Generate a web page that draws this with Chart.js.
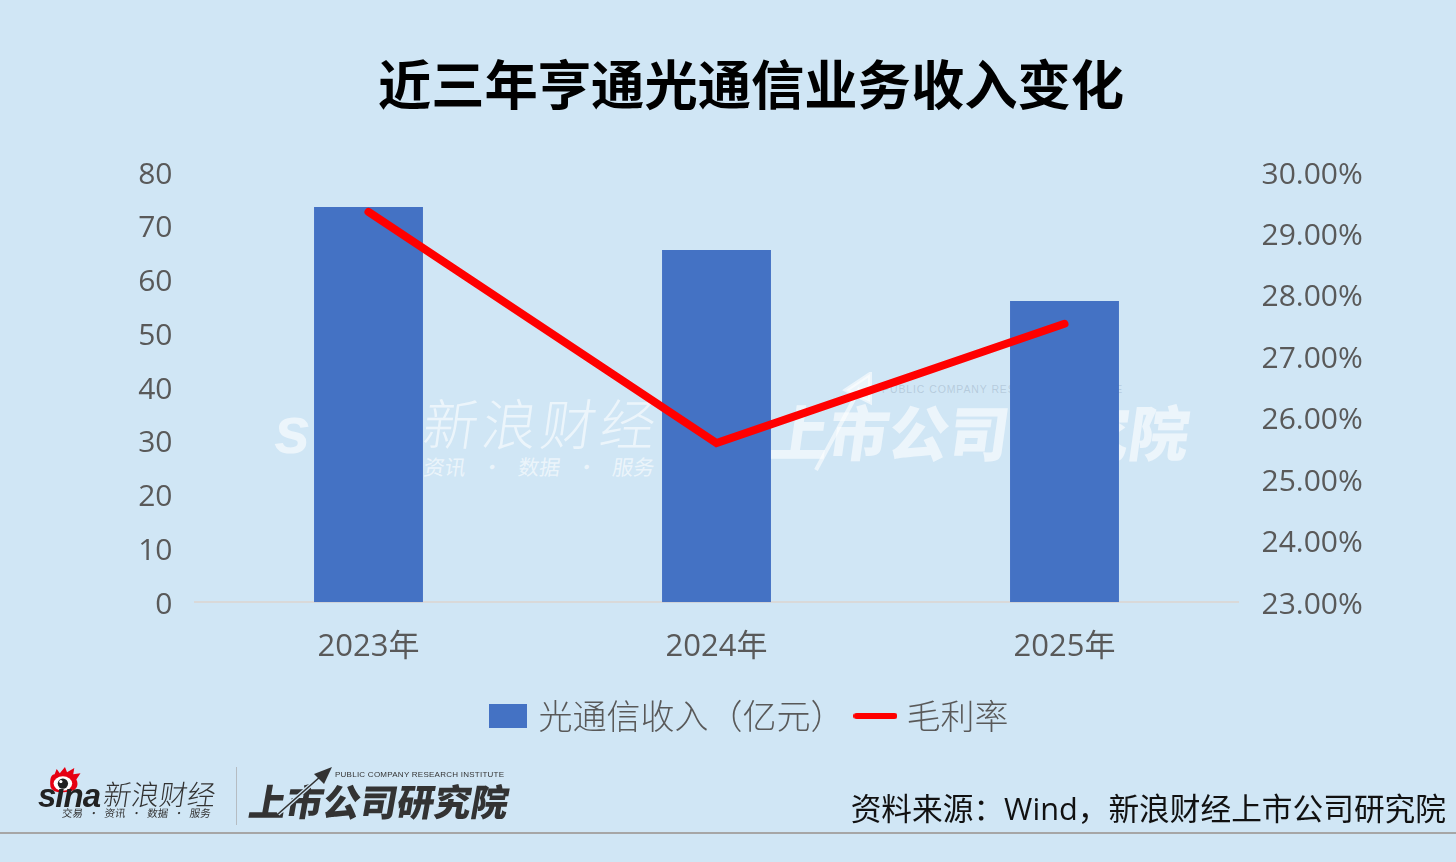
<!DOCTYPE html>
<html lang="zh">
<head>
<meta charset="utf-8">
<title>近三年亨通光通信业务收入变化</title>
<script src="https://cdn.jsdelivr.net/npm/chart.js@4"></script>
<style>
html,body{margin:0;padding:0;background:#d0e6f5;overflow:hidden}
#page{position:relative;width:1456px;height:862px;font-family:"Noto Sans CJK SC",sans-serif}
#page canvas{position:absolute;left:0;top:0}
.t{position:absolute;white-space:nowrap;line-height:1}
.wm{color:rgba(255,255,255,.6)}
.logo{color:#333}
#rule{position:absolute;left:0;top:832px;width:1456px;height:2px;background:#a6a6a6}
#divider{position:absolute;left:236px;top:767px;width:1px;height:58px;background:#b5bcc2}
#source{right:10px;top:793px;font-size:30.7px;color:#111;font-family:"Open Sans","Noto Sans CJK SC",sans-serif}
</style>
</head>
<body>
<div id="page">
  <!-- watermark sits behind the chart -->
  <div class="t wm" style="left:274px;top:392px;font:italic 900 66px 'Liberation Sans',sans-serif">s</div>
  <div class="t wm" style="left:424px;top:394px;font-size:55px;font-weight:300;transform:skewX(-8deg);letter-spacing:4px">新浪财经</div>
  <div class="t wm" style="left:424px;top:456px;font-size:21px;transform:skewX(-8deg);word-spacing:11px">资讯 · 数据 · 服务</div>
  <div class="t wm" style="left:770px;top:400px;font-size:60px;font-weight:900;transform:skewX(-8deg)">上市公司研究院</div>
  <div class="t" style="left:882px;top:383px;font:10.5px 'Liberation Sans',sans-serif;letter-spacing:.9px;color:rgba(150,170,190,.45)">PUBLIC COMPANY RESEARCH INSTITUTE</div>
  <svg style="position:absolute;left:810px;top:372px" width="70" height="100" viewBox="0 0 70 100">
    <path d="M6 98 L50 16 M36 18 L60 2 L60 30Z" stroke="rgba(255,255,255,.6)" stroke-width="4" fill="rgba(255,255,255,.6)"/>
  </svg>
  <canvas id="chart" width="1456" height="862"></canvas>

  <svg style="position:absolute;left:47px;top:766px" width="38" height="29" viewBox="0 0 36 28">
    <path d="M3 20 C2 12 4 8 7 8 L9 3 L12 7 L17 1 L19 6 L26 2 L25 8 L32 7 L28 13 C31 19 28 25 18 25 C10 26 5 25 3 20Z" fill="#e60012"/>
    <ellipse cx="15" cy="17" rx="9" ry="7" fill="#fff"/>
    <circle cx="15" cy="17" r="5" fill="#222"/>
    <circle cx="13" cy="15" r="1.6" fill="#fff"/>
  </svg>
  <div class="t" style="left:38px;top:777px;font:italic 900 33px 'Liberation Sans',sans-serif;color:#222;letter-spacing:-1px">sina</div>
  <div class="t logo" style="left:104px;top:779px;font-size:28px;font-weight:300;transform:skewX(-8deg)">新浪财经</div>
  <div class="t logo" style="left:62px;top:808px;font-size:10.5px;word-spacing:3.2px;transform:skewX(-8deg)">交易 · 资讯 · 数据 · 服务</div>
  <div id="divider"></div>
  <div class="t logo" style="left:250px;top:782px;font-size:37px;font-weight:900;transform:skewX(-10deg)">上市公司研究院</div>
  <svg style="position:absolute;left:275px;top:764px" width="60" height="52" viewBox="0 0 60 52">
    <path d="M3 50 L46 12" stroke="#d0e6f5" stroke-width="4"/>
    <path d="M3 50 L46 12" stroke="#333" stroke-width="1.6"/>
    <path d="M39 10 L57 3 L49 20Z" fill="#333"/>
  </svg>
  <div class="t logo" style="left:335px;top:770px;font:8px 'Liberation Sans',sans-serif;letter-spacing:.25px">PUBLIC COMPANY RESEARCH INSTITUTE</div>
  <div class="t" id="source">资料来源：Wind，新浪财经上市公司研究院</div>
  <div id="rule"></div>
</div>
<script>
const categories = ['2023年', '2024年', '2025年'];
const revenue = [73.5, 65.5, 56.0];
const margin = [29.35, 25.59, 27.53];
const seriesNames = ['光通信收入（亿元）', '毛利率'];
const chartTitle = '近三年亨通光通信业务收入变化';

const BLUE = '#4472c4';
const RED = '#ff0000';
const GREY = '#595959';
const TICK_FONT = {family: '"Open Sans","Noto Sans CJK SC",sans-serif', size: 30};

// legend swatches, so box and line can differ in size
function swatch(w, h, colour, round) {
    const c = document.createElement('canvas');
    c.width = w;
    c.height = h;
    const g = c.getContext('2d');
    g.fillStyle = colour;
    g.beginPath();
    g.roundRect(0, 0, w, h, round);
    g.fill();
    return c;
}
const legendIcons = [swatch(38, 24, BLUE, 0), swatch(44, 6, RED, 3)];

const ctx = document.getElementById('chart').getContext('2d');
new Chart(ctx, {
    data: {
        labels: categories,
        datasets: [
            {
                type: 'line',
                label: seriesNames[1],
                data: margin,
                yAxisID: 'y1',
                borderColor: RED,
                backgroundColor: RED,
                borderWidth: 8,
                borderCapStyle: 'round',
                borderJoinStyle: 'miter',
                pointRadius: 0,
                tension: 0,
                order: 0
            },
            {
                type: 'bar',
                label: seriesNames[0],
                data: revenue,
                yAxisID: 'y',
                backgroundColor: BLUE,
                categoryPercentage: 1,
                barPercentage: 0.313,
                order: 1
            }
        ]
    },
    options: {
        responsive: false,
        animation: false,
        layout: {padding: {left: 46, right: 0, top: 0, bottom: 119}},
        plugins: {
            title: {
                display: true,
                text: chartTitle,
                color: '#000',
                font: {family: '"Noto Sans CJK SC",sans-serif', size: 53.3, weight: 'bold', lineHeight: 1.2},
                padding: {top: 53, bottom: 55}
            },
            legend: {
                position: 'bottom',
                labels: {
                    usePointStyle: true,
                    pointStyleWidth: 28,
                    color: GREY,
                    font: {family: '"Noto Sans CJK SC",sans-serif', size: 34, weight: 300},
                    padding: 17,
                    generateLabels: () => seriesNames.map((name, i) => ({
                        text: name,
                        pointStyle: legendIcons[i],
                        fontColor: GREY,
                        datasetIndex: 1 - i
                    }))
                }
            },
            tooltip: {enabled: false}
        },
        scales: {
            x: {
                afterFit: s => { s.height -= 1.5; },
                grid: {display: false},
                border: {color: '#d9d9d9', width: 2},
                ticks: {color: GREY, font: {...TICK_FONT, size: 31}, padding: 18, maxRotation: 0}
            },
            y: {
                position: 'left',
                min: 0,
                max: 80,
                afterFit: s => { s.width = 148.5; },
                grid: {display: false, drawTicks: false},
                border: {display: false},
                ticks: {stepSize: 10, color: GREY, font: TICK_FONT, padding: 22, labelOffset: 3}
            },
            y1: {
                position: 'right',
                min: 23,
                max: 30,
                afterFit: s => { s.width = 217.5; },
                grid: {display: false, drawTicks: false},
                border: {display: false},
                ticks: {
                    stepSize: 1,
                    color: GREY,
                    font: TICK_FONT,
                    padding: 23,
                    labelOffset: 3,
                    callback: v => v.toFixed(2) + '%'
                }
            }
        }
    }
});
</script>
</body>
</html>
